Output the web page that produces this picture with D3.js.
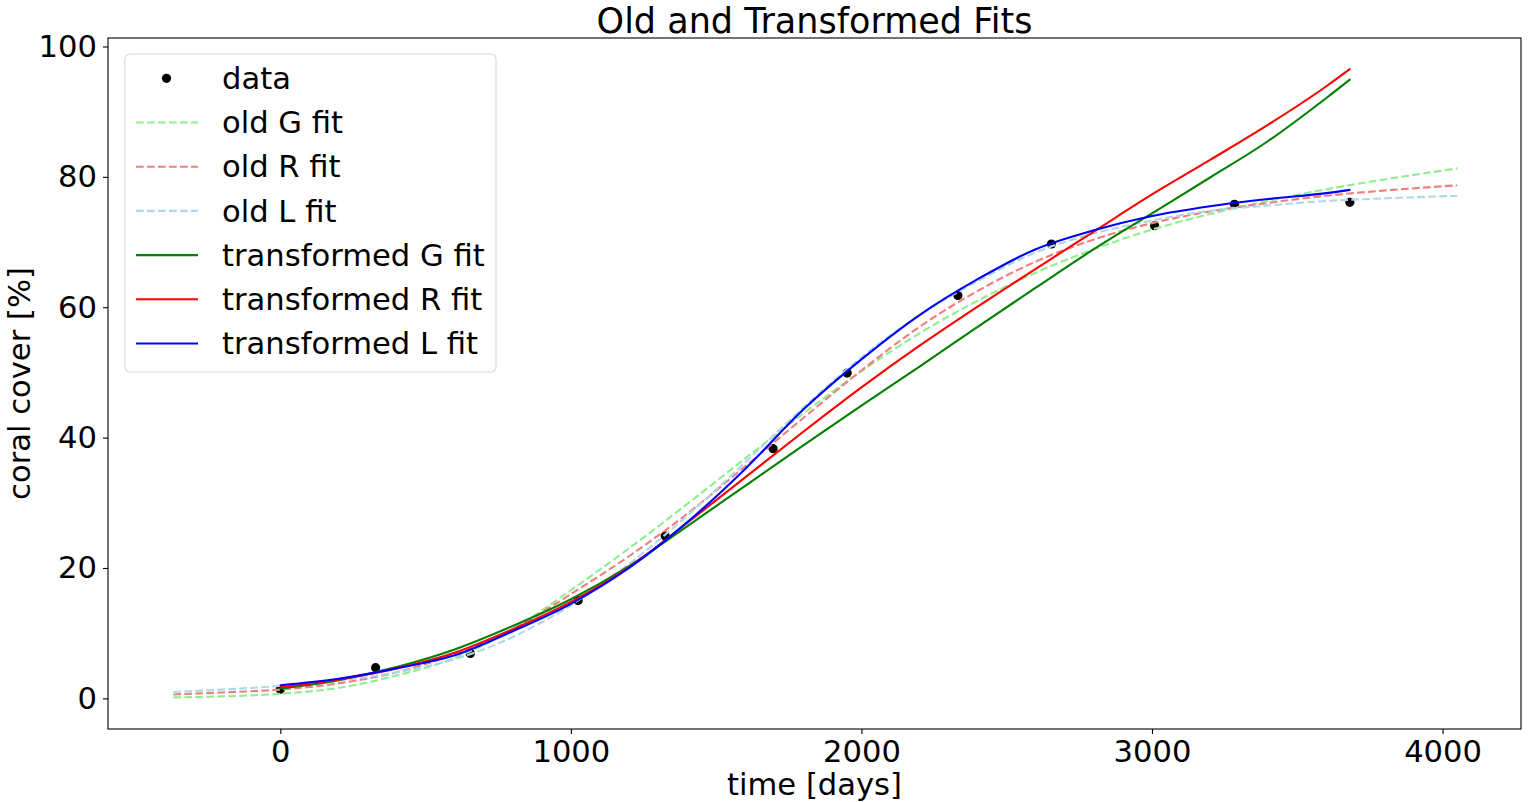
<!DOCTYPE html>
<html lang="en">
<head>
  <meta charset="UTF-8" />
  <title>Old and Transformed Fits</title>
  <style>
    body { margin: 0; padding: 0; background: #fff; }
    svg { display: block; font-family: "DejaVu Sans", sans-serif; }
  </style>
  <script src="https://d3js.org/d3.v7.min.js"></script>
</head>
<body>
<svg id="chart" width="1536" height="802"></svg>

<script>
// measured data
const dataT = [0, 328, 654, 1025, 1325, 1696, 1951, 2332, 2654, 3009, 3284, 3681];
const dataV = [1.4, 4.7, 6.9, 15.0, 24.9, 38.3, 49.9, 61.8, 69.7, 72.5, 75.8, 76.1];

// old fits on an extended time grid
const oldT  = [-368, -200, 0, 200, 400, 600, 800, 1000, 1200, 1400, 1600, 1800, 2000, 2200, 2400, 2600, 2800, 3000, 3200, 3400, 3600, 3800, 4051];
const oldG  = [0.15, 0.3, 0.7, 1.6, 3.5, 6.2, 10.6, 16.6, 23.0, 29.8, 36.8, 43.7, 50.2, 56.0, 61.0, 65.3, 68.9, 71.9, 74.3, 76.3, 78.1, 79.6, 81.3];
const oldR  = [0.6, 0.9, 1.35, 2.3, 4.0, 6.8, 10.6, 16.0, 21.8, 28.3, 35.6, 43.0, 50.3, 57.0, 62.5, 67.0, 70.4, 72.9, 74.7, 76.0, 77.1, 77.9, 78.7];
const oldL  = [0.97, 1.35, 1.9, 2.7, 4.0, 6.0, 9.4, 14.3, 20.6, 28.0, 36.2, 44.6, 52.3, 58.8, 64.0, 68.4, 71.3, 73.3, 74.8, 75.6, 76.3, 76.7, 77.1];

// transformed fits, over the data range
const newT  = [0, 200, 400, 600, 800, 1000, 1200, 1400, 1600, 1800, 2000, 2200, 2400, 2600, 2800, 3000, 3200, 3400, 3600, 3683];
const newG  = [1.5, 2.8, 4.8, 7.5, 11.1, 15.2, 20.3, 26.4, 32.6, 38.8, 44.9, 50.9, 57.0, 63.0, 68.9, 74.4, 79.9, 85.5, 92.1, 95.0];
const newR  = [1.7, 2.9, 4.6, 7.0, 10.6, 14.8, 20.1, 26.9, 33.9, 40.9, 47.7, 54.1, 60.1, 65.9, 71.6, 77.3, 82.6, 88.0, 93.9, 96.6];
const newL  = [2.0, 3.0, 4.6, 6.6, 10.3, 14.5, 20.0, 27.0, 35.2, 44.3, 52.0, 58.8, 64.3, 68.9, 71.8, 74.0, 75.5, 76.6, 77.5, 78.0];

const xTicks = [0, 1000, 2000, 3000, 4000];
const yTicks = [0, 20, 40, 60, 80, 100];

const series = [
  { label: "old G fit",         t: oldT, v: oldG, color: "#90ee90", dash: "7.7,3.3" },
  { label: "old R fit",         t: oldT, v: oldR, color: "#f08080", dash: "7.7,3.3" },
  { label: "old L fit",         t: oldT, v: oldL, color: "#add8e6", dash: "7.7,3.3" },
  { label: "transformed G fit", t: newT, v: newG, color: "#008000", dash: null },
  { label: "transformed R fit", t: newT, v: newR, color: "#ff0000", dash: null },
  { label: "transformed L fit", t: newT, v: newL, color: "#0000ff", dash: null }
];

const svg = d3.select("#chart");
const margin = { left: 108, right: 15, top: 38, bottom: 73 };
const W = 1536, H = 802;
const fs = 30.6;

const x = d3.scaleLinear().domain([-593, 4270]).range([margin.left, W - margin.right]);
const y = d3.scaleLinear().domain([-4.7, 101.3]).range([H - margin.bottom, margin.top]);

// axes
const xAxis = svg.append("g")
  .attr("transform", `translate(0,${H - margin.bottom})`)
  .call(d3.axisBottom(x).tickValues(xTicks).tickFormat(d3.format("d")).tickSize(5).tickPadding(6));
const yAxis = svg.append("g")
  .attr("transform", `translate(${margin.left},0)`)
  .call(d3.axisLeft(y).tickValues(yTicks).tickFormat(d3.format("d")).tickSize(5).tickPadding(6));
[xAxis, yAxis].forEach(g => {
  g.select(".domain").remove();
  g.selectAll("line").attr("stroke", "#000").attr("stroke-width", 1.1);
  g.selectAll("text").attr("font-size", fs).attr("fill", "#000").attr("font-family", "DejaVu Sans");
});

// data points (drawn under the lines)
svg.append("g").selectAll("circle")
  .data(dataT.map((t, i) => [t, dataV[i]]))
  .join("circle")
  .attr("cx", d => x(d[0]))
  .attr("cy", d => y(d[1]))
  .attr("r", 4.6)
  .attr("fill", "#000");

const line = d3.line()
  .x(d => x(d[0]))
  .y(d => y(d[1]))
  .curve(d3.curveMonotoneX);

series.forEach(s => {
  svg.append("path")
    .datum(s.t.map((t, i) => [t, s.v[i]]))
    .attr("fill", "none")
    .attr("stroke", s.color)
    .attr("stroke-width", 2.1)
    .attr("stroke-dasharray", s.dash)
    .attr("d", line);
});

// frame
svg.append("rect")
  .attr("x", margin.left).attr("y", margin.top)
  .attr("width", W - margin.left - margin.right)
  .attr("height", H - margin.top - margin.bottom)
  .attr("fill", "none").attr("stroke", "#000").attr("stroke-width", 1.1);

// title and axis labels
svg.append("text")
  .attr("x", (margin.left + W - margin.right) / 2).attr("y", 33)
  .attr("text-anchor", "middle").attr("font-size", 35)
  .text("Old and Transformed Fits");
svg.append("text")
  .attr("x", (margin.left + W - margin.right) / 2).attr("y", 795)
  .attr("text-anchor", "middle").attr("font-size", fs)
  .text("time [days]");
svg.append("text")
  .attr("transform", `translate(30,${(margin.top + H - margin.bottom) / 2}) rotate(-90)`)
  .attr("text-anchor", "middle").attr("font-size", fs)
  .text("coral cover [%]");

// legend
const leg = svg.append("g");
leg.append("rect")
  .attr("x", 125).attr("y", 54).attr("width", 371).attr("height", 318)
  .attr("rx", 5).attr("fill", "#fff").attr("fill-opacity", 0.8)
  .attr("stroke", "#d6d6d6").attr("stroke-width", 1.1);

const rowY = i => 78.3 + i * 44.2;
leg.append("circle").attr("cx", 166.5).attr("cy", rowY(0)).attr("r", 4.6).attr("fill", "#000");
leg.append("text").attr("x", 222).attr("y", rowY(0)).attr("dy", "0.35em")
  .attr("font-size", fs).text("data");
series.forEach((s, i) => {
  leg.append("line")
    .attr("x1", 136).attr("x2", 198)
    .attr("y1", rowY(i + 1)).attr("y2", rowY(i + 1))
    .attr("stroke", s.color).attr("stroke-width", 2.1)
    .attr("stroke-dasharray", s.dash);
  leg.append("text").attr("x", 222).attr("y", rowY(i + 1)).attr("dy", "0.35em")
    .attr("font-size", fs).text(s.label);
});
</script>
</body>
</html>
